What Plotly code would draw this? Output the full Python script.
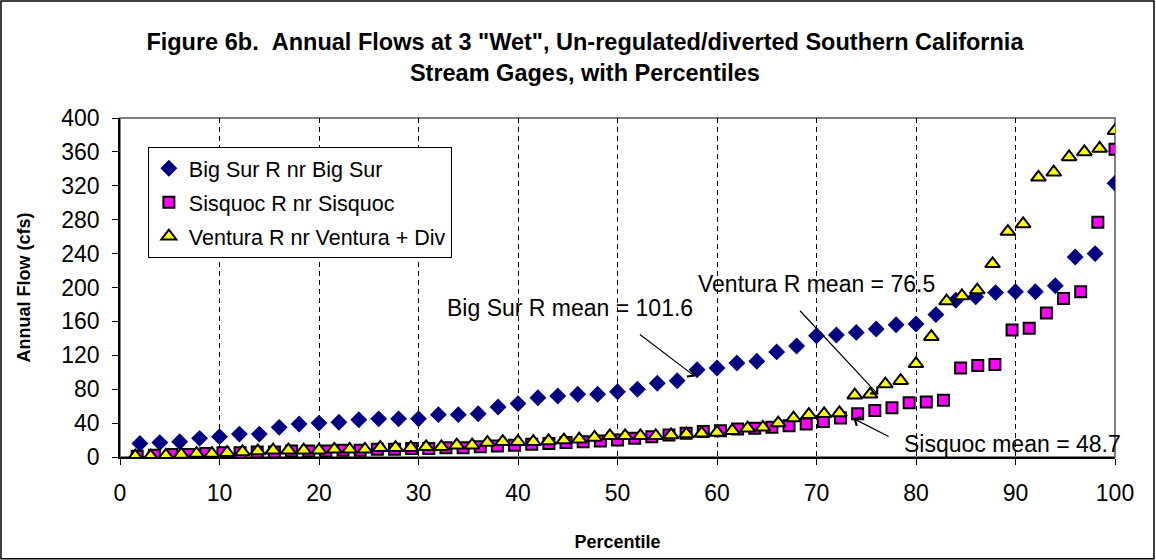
import plotly.graph_objects as go

# ---- data ----
bigsur_flow = [16, 17, 18, 22, 24, 27, 27, 35, 39, 40, 41, 44, 45, 45, 45, 50, 50, 51, 59, 63,
               70, 72, 74, 74, 77, 80, 87, 90, 103, 105, 111, 113, 124, 131, 143, 144, 147, 151, 156, 157,
               168, 185, 189, 194, 195, 195, 202, 236, 240, 323]
sisquoc_flow = [1, 2, 3, 3, 4, 5, 5, 6, 6, 7, 7, 7, 8, 8, 9, 9, 10, 10, 11, 11,
                12, 13, 14, 15, 16, 17, 18, 19, 20, 22, 24, 26, 28, 30, 31, 33, 34, 35, 37, 39,
                42, 46, 51, 55, 58, 64, 65, 67, 105, 108, 109, 150, 152, 170, 187, 195, 277, 363]
ventura_flow = [1, 1, 2, 3, 4, 4, 5, 6, 7, 8, 8, 8, 8, 9, 9, 9, 11, 11, 11, 12,
                12, 14, 14, 17, 18, 18, 18, 19, 20, 21, 23, 25, 25, 25, 25, 26, 27, 28, 29, 31,
                34, 35, 40, 46, 50, 51, 52, 73, 74, 86, 90, 110, 142, 184, 190, 197, 228, 266, 275, 330,
                336, 354, 360, 364, 385]

def percentiles(n):
    return [100.0 * (k + 1) / n for k in range(n)]

bigsur_pct = percentiles(len(bigsur_flow))
sisquoc_pct = percentiles(len(sisquoc_flow))
ventura_pct = percentiles(len(ventura_flow))

series_names = ["Big Sur R nr Big Sur", "Sisquoc R nr Sisquoc", "Ventura R nr Ventura + Div"]
x_ticks = list(range(0, 101, 10))
y_ticks = list(range(0, 401, 40))

# mean annotations: text, text position, arrow tail, arrow head (data units)
mean_labels = ["Big Sur R mean = 101.6", "Ventura R mean = 76.5", "Sisquoc mean = 48.7"]
label_pos = [(45.2, 176), (69.95, 204), (89.7, 15.5)]
arrow_tail = [(52.1, 146), (68.2, 174.3), (77.4, 23.2)]
arrow_head = [(57.8, 95), (76.2, 73.5), (73.7, 45.5)]

FONT = "Liberation Sans, Arial, sans-serif"

fig = go.Figure()
fig.add_trace(go.Scatter(
    x=bigsur_pct, y=bigsur_flow, mode="markers", name=series_names[0], legendgroup="a",
    marker=dict(symbol="diamond", size=13, color="#000080", line=dict(width=0))))
fig.add_trace(go.Scatter(
    x=sisquoc_pct, y=sisquoc_flow, mode="markers", name=series_names[1], legendgroup="b",
    marker=dict(symbol="square", size=11, color="#FF00FF", line=dict(width=2, color="black"))))
fig.add_trace(go.Scatter(
    x=ventura_pct, y=ventura_flow, mode="markers", name=series_names[2], legendgroup="c",
    marker=dict(symbol="triangle-up", size=13, color="#FFFF00", line=dict(width=2, color="black"))))

annotations = []
for txt, (tx, ty) in zip(mean_labels, label_pos):
    annotations.append(dict(x=tx, y=ty, xref="x", yref="y", text=txt, showarrow=False,
                            font=dict(family=FONT, size=23, color="black")))
for (ax_, ay_), (hx, hy) in zip(arrow_tail, arrow_head):
    annotations.append(dict(x=hx, y=hy, ax=ax_, ay=ay_, xref="x", yref="y", axref="x", ayref="y",
                            text="", showarrow=True, arrowhead=4, arrowsize=1.6, arrowwidth=1.2,
                            arrowcolor="black", standoff=0))

shapes = [
    # outer chart border
    dict(type="rect", xref="paper", yref="paper", x0=-0.1196, x1=1.0392, y0=-0.300, y1=1.345,
         line=dict(color="black", width=1.5), fillcolor="rgba(0,0,0,0)", layer="below"),
    # plot area border (gray)
    dict(type="rect", xref="paper", yref="paper", x0=0, x1=1, y0=0, y1=1,
         line=dict(color="#808080", width=2), fillcolor="rgba(0,0,0,0)", layer="below"),
]

fig.update_layout(
    width=1156, height=560,
    margin=dict(l=120, r=41, t=118, b=103, pad=0, autoexpand=False),
    paper_bgcolor="white", plot_bgcolor="white",
    font=dict(family=FONT, size=23, color="black"),
    title=dict(text="Figure 6b. \u00a0Annual Flows at 3 \"Wet\", Un-regulated/diverted Southern California<br>Stream Gages, with Percentiles",
               x=0.506, xanchor="center", y=0.91, yanchor="top",
               font=dict(family=FONT, size=23.5, color="black", weight="bold")),
    showlegend=True,
    legend=dict(x=0.028, y=0.915, xanchor="left", yanchor="top",
                bgcolor="white", bordercolor="black", borderwidth=1,
                font=dict(family=FONT, size=21.5, color="black"),
                itemwidth=30, tracegroupgap=3),
    annotations=annotations,
    shapes=shapes,
)

fig.update_xaxes(
    range=[0, 100], tickvals=x_ticks, ticktext=[str(v) for v in x_ticks],
    showgrid=True, gridcolor="black", gridwidth=1, griddash="5px,4px",
    zeroline=False, showline=True, linecolor="black", linewidth=1.5,
    ticks="outside", ticklen=6, tickcolor="black", tickwidth=1,
    ticklabelstandoff=9, automargin=False,
    tickfont=dict(family=FONT, size=23, color="black"),
    title=dict(text="Percentile", standoff=30,
               font=dict(family=FONT, size=18, color="black", weight="bold")),
)
fig.update_yaxes(
    range=[0, 400], tickvals=y_ticks, ticktext=[str(v) for v in y_ticks],
    showgrid=False, zeroline=False, showline=True, linecolor="black", linewidth=1.5,
    ticks="outside", ticklen=6, tickcolor="black", tickwidth=1,
    ticklabelstandoff=8, automargin=False,
    tickfont=dict(family=FONT, size=23, color="black"),
    title=dict(text="Annual Flow (cfs)", standoff=26,
               font=dict(family=FONT, size=18, color="black", weight="bold")),
)

fig.write_html("out.html")
